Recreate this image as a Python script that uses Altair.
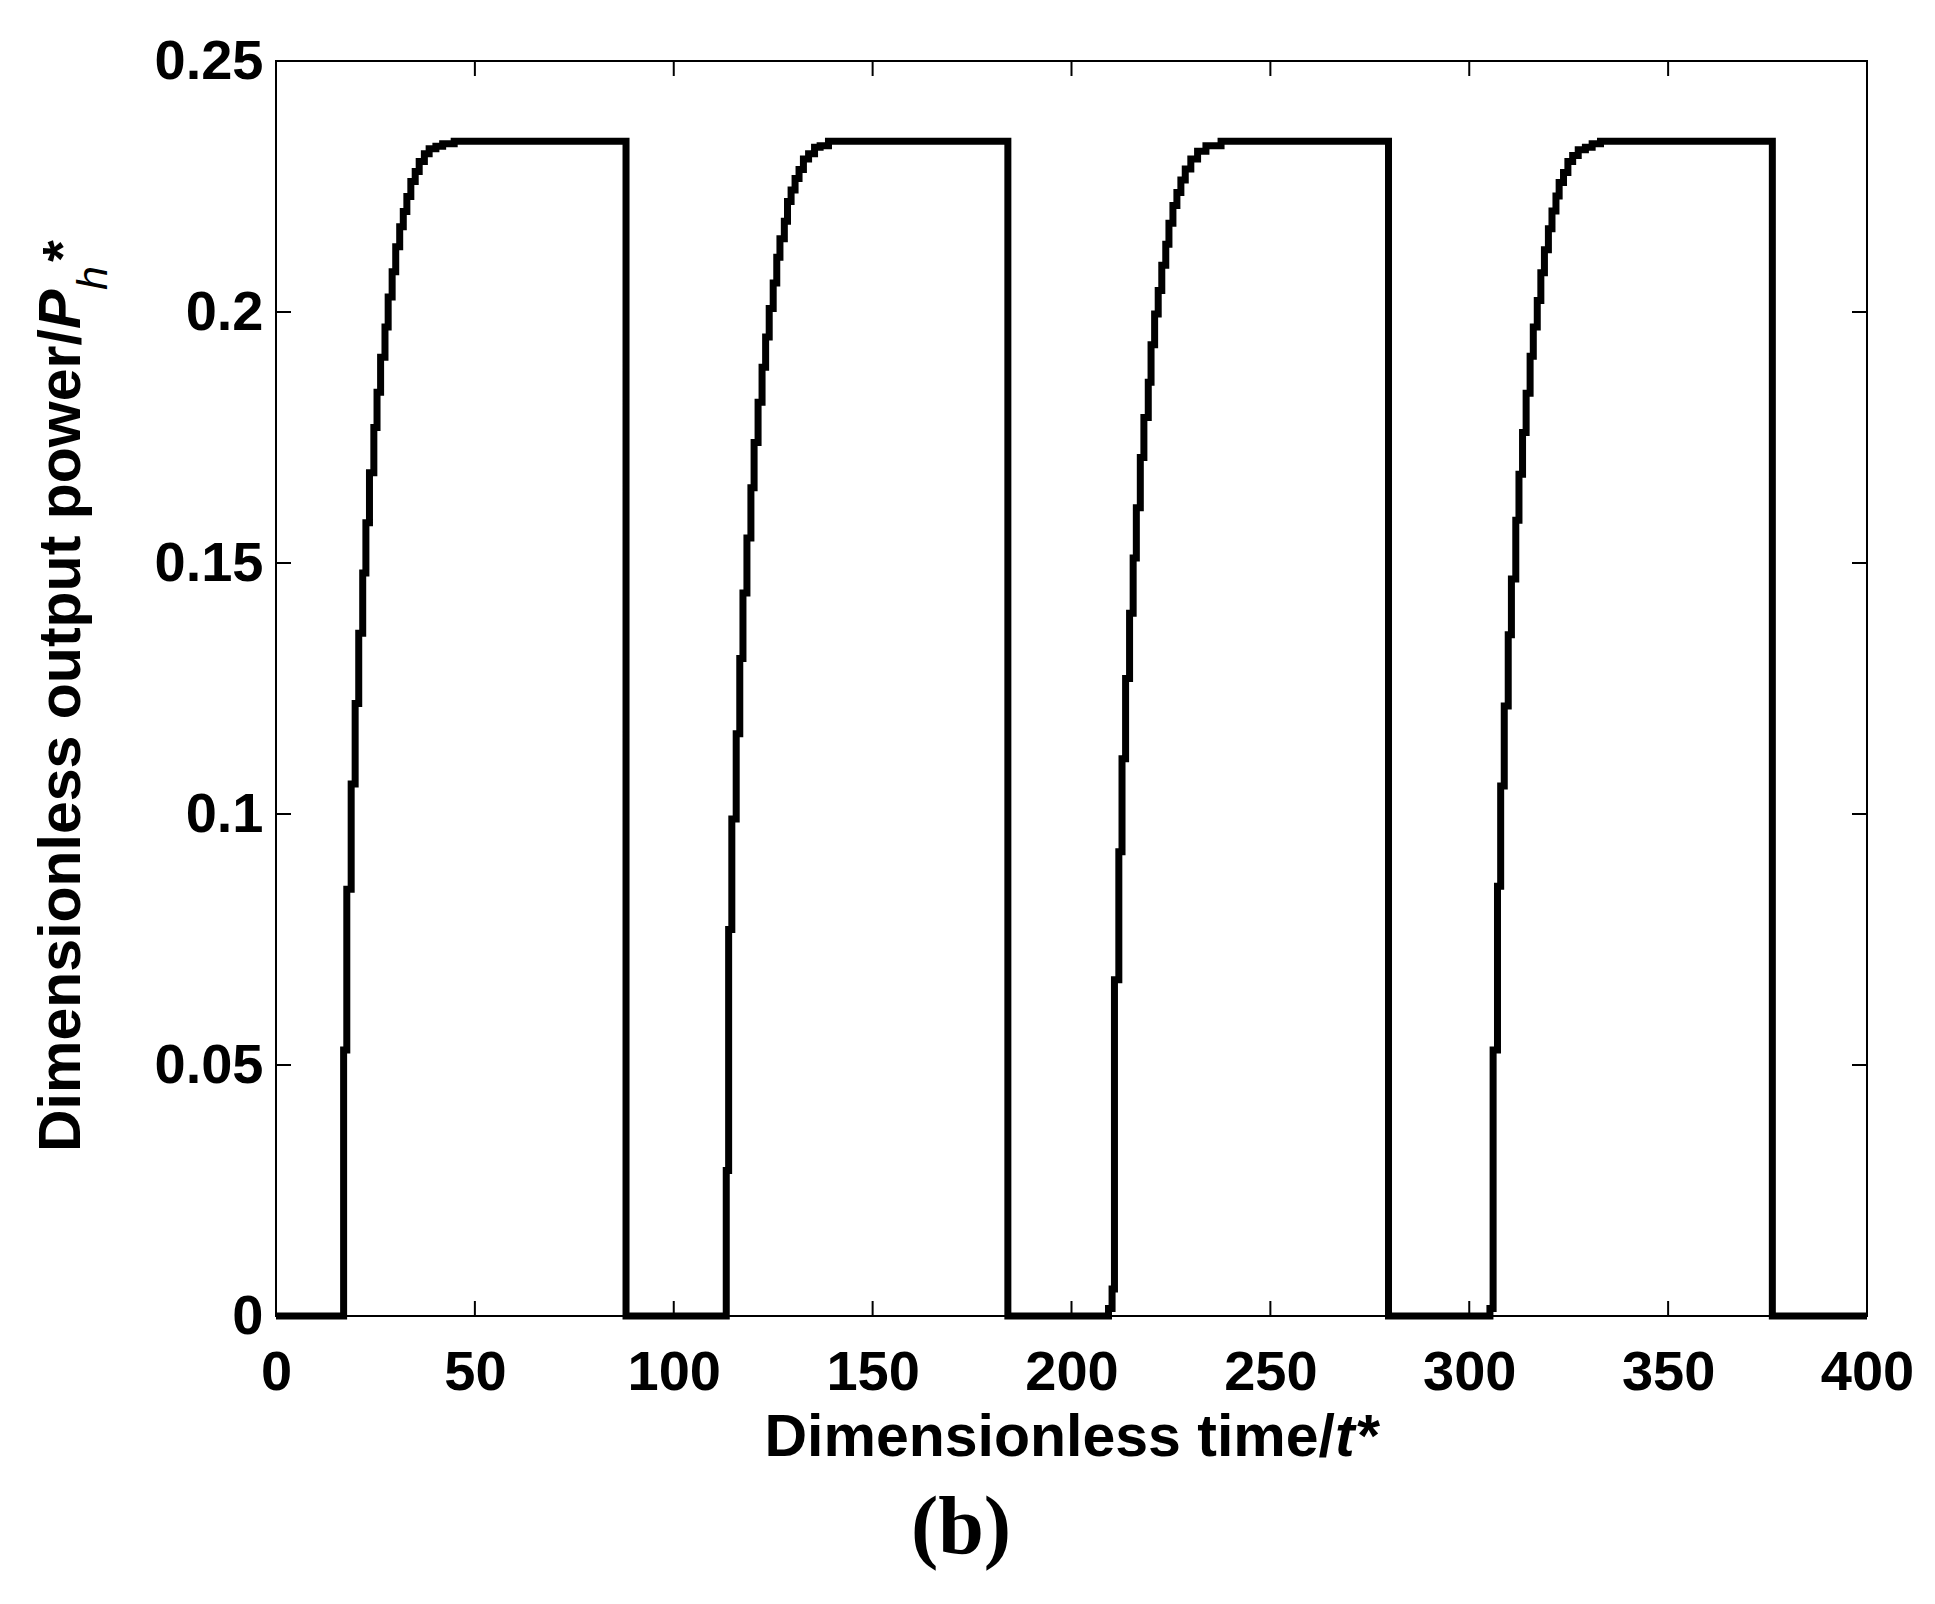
import altair as alt
import pandas as pd

# ---- data ----
c1_t = [17.0, 17.8, 18.9, 19.9, 20.8, 21.8, 22.6, 23.5, 24.6, 25.4, 26.3, 27.4, 28.2,
        29.2, 30.1, 31.1, 32.0, 32.9, 33.9, 35.0, 36.0, 37.3, 38.5, 40.2, 41.9, 44.8]
c1_p = [0.053, 0.085, 0.106, 0.122, 0.136, 0.148, 0.158, 0.168, 0.177, 0.184, 0.191, 0.197, 0.203,
        0.208, 0.213, 0.217, 0.220, 0.223, 0.226, 0.228, 0.230, 0.2315, 0.2325, 0.233, 0.2335, 0.234]

c2_t = [113.2, 113.8, 114.6, 115.7, 116.6, 117.4, 118.4, 119.4, 120.2, 121.2, 122.2, 123.1, 124.0,
        125.0, 125.9, 126.7, 127.8, 128.6, 129.5, 130.5, 131.5, 132.6, 133.9, 135.4, 136.8, 138.9]
c2_p = [0.029, 0.077, 0.099, 0.116, 0.131, 0.144, 0.155, 0.165, 0.174, 0.182, 0.189, 0.195, 0.2007,
        0.2058, 0.2109, 0.2146, 0.2181, 0.222, 0.2243, 0.2266, 0.2284, 0.2305, 0.2315, 0.2328, 0.2331, 0.234]

c3_t = [209.3, 210.2, 210.8, 211.9, 212.7, 213.6, 214.6, 215.5, 216.3, 217.3, 218.2, 219.3, 220.0,
        220.9, 221.8, 222.7, 223.7, 224.5, 225.5, 226.5, 227.5, 228.6, 230.0, 231.7, 233.8, 237.6]
c3_p = [0.0015, 0.0054, 0.067, 0.0925, 0.111, 0.127, 0.140, 0.151, 0.161, 0.171, 0.179, 0.186, 0.1935,
        0.1996, 0.2043, 0.2093, 0.2135, 0.2177, 0.2212, 0.2238, 0.2263, 0.2285, 0.2305, 0.232, 0.2331, 0.234]

c4_t = [305.2, 306.0, 307.1, 307.9, 308.8, 309.8, 310.6, 311.7, 312.5, 313.4, 314.3, 315.3, 316.1,
        317.1, 318.0, 318.9, 319.9, 320.8, 321.8, 322.6, 323.7, 324.8, 326.0, 327.4, 329.2, 330.9, 333.0]
c4_p = [0.0015, 0.053, 0.0856, 0.1056, 0.1215, 0.1357, 0.1468, 0.1585, 0.1677, 0.176, 0.1838, 0.1912, 0.197,
        0.2023, 0.2078, 0.2124, 0.2166, 0.2201, 0.2231, 0.2258, 0.2278, 0.23, 0.2312, 0.2323, 0.2328, 0.2335, 0.234]

off_t = [88.0, 184.0, 279.7, 376.2]
t_start, t_end = 0.0, 400.0

x_ticks = [0, 50, 100, 150, 200, 250, 300, 350, 400]
y_ticks = [0, 0.05, 0.1, 0.15, 0.2, 0.25]

x_title_main = ["Dimensionless time/"]
x_title_ital = ["t*"]
y_title_main = ["Dimensionless output power/"]
y_title_P = ["P"]
y_title_h = ["h"]
y_title_star = ["*"]
panel_label = ["(b)"]

# ---- build the series ----
ts, ps = [t_start], [0.0]
for ct, cp, toff in [(c1_t, c1_p, off_t[0]), (c2_t, c2_p, off_t[1]),
                     (c3_t, c3_p, off_t[2]), (c4_t, c4_p, off_t[3])]:
    ts += ct
    ps += cp
    ts.append(toff)
    ps.append(0.0)
ts.append(t_end)
ps.append(0.0)
df = pd.DataFrame({"t": ts, "p": ps, "i": range(len(ts))})

W, H = 1591, 1255
FONT = "Liberation Sans"
TICK = 15

xscale = alt.Scale(domain=[0, 400], nice=False, zero=False)
yscale = alt.Scale(domain=[0, 0.25], nice=False)

xaxis = alt.Axis(values=x_ticks, title=None, ticks=False, tickSize=0, domain=False, grid=False,
                 labelFont=FONT, labelFontWeight="bold", labelFontSize=56,
                 labelColor="black", labelPadding=29, labelFlush=False, labelOverlap=False)
yaxis = alt.Axis(values=y_ticks, title=None, ticks=False, tickSize=0, domain=False, grid=False,
                 format="~g", labelFont=FONT, labelFontWeight="bold", labelFontSize=56,
                 labelColor="black", labelPadding=13, labelFlush=False, labelOverlap=False)

line = alt.Chart(df).mark_line(
    color="black", strokeWidth=7, interpolate="step-after", clip=False
).encode(
    x=alt.X("t:Q", scale=xscale, axis=xaxis),
    y=alt.Y("p:Q", scale=yscale, axis=yaxis),
    order="i:Q",
)

xt = pd.DataFrame({"t": x_ticks})
yt = pd.DataFrame({"p": y_ticks})
tick_style = dict(color="black", strokeWidth=2)
bottom_ticks = alt.Chart(xt).mark_rule(**tick_style).encode(
    x=alt.X("t:Q", scale=xscale, axis=xaxis), y=alt.value(H), y2=alt.value(H - TICK))
top_ticks = alt.Chart(xt).mark_rule(**tick_style).encode(
    x=alt.X("t:Q", scale=xscale, axis=xaxis), y=alt.value(0), y2=alt.value(TICK))
left_ticks = alt.Chart(yt).mark_rule(**tick_style).encode(
    y=alt.Y("p:Q", scale=yscale, axis=yaxis), x=alt.value(0), x2=alt.value(TICK))
right_ticks = alt.Chart(yt).mark_rule(**tick_style).encode(
    y=alt.Y("p:Q", scale=yscale, axis=yaxis), x=alt.value(W), x2=alt.value(W - TICK))


def label(texts, x, y, size, align="left", angle=0, weight="bold", style="normal", font=FONT):
    kw = dict(align=align, baseline="alphabetic", fontSize=size, fontWeight=weight,
              fontStyle=style, font=font, color="black")
    if angle:
        kw["angle"] = angle
    return alt.Chart(pd.DataFrame({"s": texts})).mark_text(**kw).encode(
        text="s:N", x=alt.value(x), y=alt.value(y))


xt_main = label(x_title_main, 1059, 1395, 59, align="right")
xt_ital = label(x_title_ital, 1059, 1395, 59, align="left", style="italic")
yt_main = label(y_title_main, -196, 1091, 59, angle=270)
yt_P = label(y_title_P, -196, 268, 59, angle=270, style="italic")
yt_h = label(y_title_h, -169, 229, 43, angle=270, style="italic", weight="normal")
yt_star = label(y_title_star, -195, 201, 56, angle=270)
pl = label(panel_label, 685, 1492, 82, align="center", font="Liberation Serif")

chart = alt.layer(
    line, bottom_ticks, top_ticks, left_ticks, right_ticks,
    xt_main, xt_ital, yt_main, yt_P, yt_h, yt_star, pl
).properties(
    width=W, height=H,
    autosize=alt.AutoSizeParams(type="none"),
    padding={"left": 268, "top": 53, "right": 50, "bottom": 270},
    background="white",
).configure_view(stroke="black", strokeWidth=2)

chart.save("out.html", embed_options={"renderer": "svg", "actions": False})
